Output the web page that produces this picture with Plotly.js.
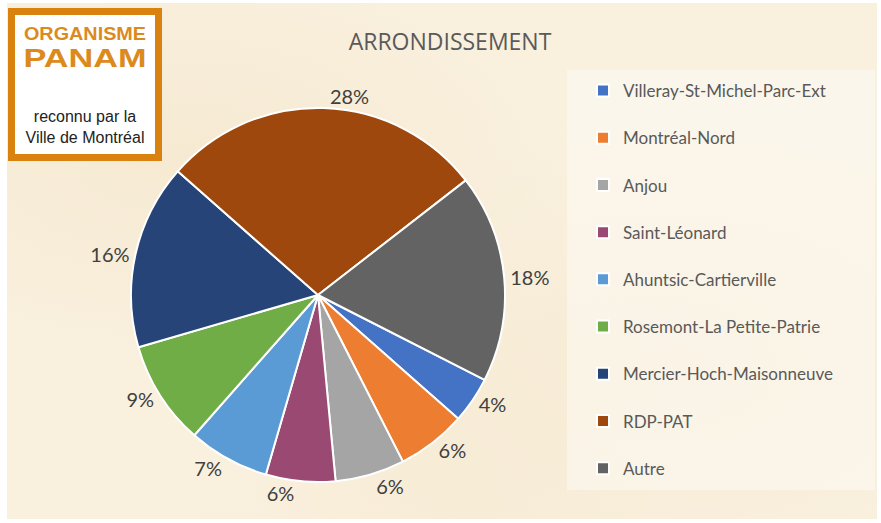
<!DOCTYPE html>
<html>
<head>
<meta charset="utf-8">
<script src="https://cdn.plot.ly/plotly-3.0.1.min.js"></script>
<style>
  html, body { margin: 0; padding: 0; width: 881px; height: 523px; overflow: hidden; background: #ffffff; }
  #frame {
    position: absolute; left: 7px; top: 3px; width: 870px; height: 516px;
    background:
      radial-gradient(ellipse at 20% 30%, rgba(242,226,196,0.45) 0%, rgba(242,226,196,0) 40%),
      radial-gradient(ellipse at 75% 70%, rgba(244,230,202,0.4) 0%, rgba(244,230,202,0) 45%),
      radial-gradient(ellipse at 50% 95%, rgba(245,232,205,0.4) 0%, rgba(245,232,205,0) 40%),
      #f9f0de;
  }
  #chart { position: absolute; left: 0; top: 0; width: 881px; height: 523px; }
  #logo {
    position: absolute; left: 8px; top: 8px; width: 140px; height: 139px;
    border: 7px solid #d9820f; background: #ffffff;
    font-family: "Liberation Sans", Arial, sans-serif; text-align: center;
  }
  #logo .l1 { position: absolute; left: 0; width: 140px; top: 9px; font-size: 18px; font-weight: bold; color: #dc8a1c; line-height: 20px; transform: scale(1.1, 1); }
  #logo .l2 { position: absolute; left: 0; width: 140px; top: 29px; font-size: 25px; font-weight: bold; color: #dc8a1c; line-height: 28px; transform: scale(1.37, 1); }
  #logo .l3 { position: absolute; left: 0; width: 140px; top: 93px; font-size: 16px; color: #222222; line-height: 18px; }
  #logo .l4 { position: absolute; left: 0; width: 140px; top: 114px; font-size: 16px; color: #222222; line-height: 18px; }
</style>
</head>
<body>
<div id="frame"></div>
<div id="chart"></div>
<div id="logo">
  <div class="l1">ORGANISME</div>
  <div class="l2">PANAM</div>
  <div class="l3">reconnu par la</div>
  <div class="l4">Ville de Montréal</div>
</div>
<script>
// ---- data ----
var arrondissements = [
  "Villeray-St-Michel-Parc-Ext",
  "Montréal-Nord",
  "Anjou",
  "Saint-Léonard",
  "Ahuntsic-Cartierville",
  "Rosemont-La Petite-Patrie",
  "Mercier-Hoch-Maisonneuve",
  "RDP-PAT",
  "Autre"
];
var pourcentages = [4, 6, 6, 6, 7, 9, 16, 28, 18];
var couleurs = ["#4472c4", "#ed7d31", "#a5a5a5", "#9a4a72", "#5b9bd5", "#70ad47", "#264478", "#9e480e", "#636363"];
var titre = "ARRONDISSEMENT";

var W = 881, H = 523;
function px(x) { return x / W; }
function py(y) { return 1 - y / H; }

// legend entries with an empty second line for the tall row spacing of the original
var legendLabels = arrondissements.map(function (s) { return s + "<br> "; });

var trace = {
  type: "pie",
  labels: legendLabels,
  values: pourcentages,
  sort: false,
  direction: "clockwise",
  rotation: 117,
  marker: { colors: couleurs, line: { color: "#ffffff", width: 2 } },
  textinfo: "percent",
  texttemplate: "%{percent:.0%}",
  textposition: "outside",
  outsidetextfont: { family: "Lato, 'Noto Sans', sans-serif", size: 20, color: "#404040" },
  hoverinfo: "label+percent",
  domain: { x: [px(131), px(505)], y: [py(482), py(108)] },
  automargin: false
};

var layout = {
  width: W, height: H,
  margin: { l: 0, r: 0, t: 0, b: 0 },
  paper_bgcolor: "rgba(0,0,0,0)",
  plot_bgcolor: "rgba(0,0,0,0)",
  font: { family: "Lato, 'Noto Sans', sans-serif", color: "#595959" },
  title: {
    text: titre,
    x: px(450), xanchor: "center",
    y: py(42), yanchor: "middle",
    font: { family: "'Open Sans', Lato, sans-serif", size: 23, color: "#5a5a5a" }
  },
  showlegend: true,
  legend: {
    x: px(583), xanchor: "left",
    y: py(73), yanchor: "top",
    bgcolor: "rgba(0,0,0,0)",
    font: { family: "Lato, 'Noto Sans', sans-serif", size: 17, color: "#595959" },
    valign: "top",
    itemclick: false
  },
  shapes: [{
    type: "rect", xref: "paper", yref: "paper",
    x0: px(567), x1: px(875), y0: py(490), y1: py(70),
    fillcolor: "rgba(255,255,255,0.4)", line: { width: 0 }, layer: "below"
  }]
};

Plotly.newPlot("chart", [trace], layout, { displayModeBar: false, staticPlot: true });
</script>
</body>
</html>
